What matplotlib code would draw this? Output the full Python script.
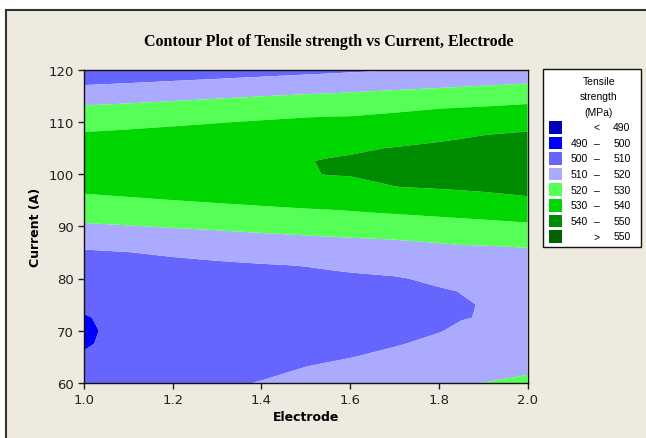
import numpy as np
import matplotlib
matplotlib.use("Agg")
import matplotlib.pyplot as plt
from matplotlib.patches import Rectangle

# ---- data ----
electrode = [1.0, 1.1, 1.2, 1.3, 1.4, 1.5, 1.55, 1.6, 1.7, 1.8, 1.85, 1.9, 2.0]
current = [60, 62.5, 65, 67.5, 70, 72.5, 75, 77.5, 80, 82.5, 85, 87.5, 90,
           92.5, 95, 97.5, 100, 102.5, 105, 107.5, 110, 112.5, 115, 117.5, 120]
# tensile strength (MPa): one row per current value, one column per electrode value
tensile = [
    [502.6, 504.6, 506.5, 508.5, 510.4, 512.4, 513.3, 514.3, 516.2, 518.2, 519.2, 520.1, 522.1],
    [501.2, 502.9, 504.6, 506.3, 508.3, 510.5, 511.3, 512.1, 513.9, 516.0, 517.1, 516.9, 518.7],
    [500.3, 501.7, 503.2, 504.7, 506.4, 508.4, 509.1, 509.8, 511.6, 513.7, 515.1, 514.3, 516.0],
    [499.7, 501.0, 502.3, 503.7, 505.1, 506.7, 507.4, 508.1, 509.5, 511.5, 513.0, 512.4, 513.9],
    [499.6, 500.8, 501.9, 503.2, 504.4, 505.7, 506.4, 507.0, 508.3, 509.7, 511.0, 511.0, 512.4],
    [499.8, 500.9, 502.0, 503.1, 504.3, 505.4, 506.0, 506.6, 507.8, 509.0, 509.7, 510.3, 511.6],
    [500.5, 501.5, 502.6, 503.6, 504.7, 505.7, 506.3, 506.8, 507.9, 509.0, 509.6, 510.2, 511.3],
    [501.7, 502.7, 503.7, 504.6, 505.6, 506.5, 507.0, 507.5, 508.4, 509.4, 510.1, 510.8, 511.8],
    [503.5, 504.5, 505.4, 506.3, 507.2, 508.0, 508.4, 508.8, 509.5, 511.1, 512.7, 512.3, 513.2],
    [505.9, 506.9, 507.8, 508.7, 509.5, 510.2, 510.8, 511.4, 512.4, 514.3, 515.4, 514.6, 515.4],
    [509.0, 509.9, 511.2, 512.4, 513.4, 514.4, 514.9, 515.4, 516.2, 517.5, 518.1, 517.7, 518.4],
    [513.6, 514.8, 515.9, 516.9, 517.8, 518.6, 519.0, 519.4, 520.1, 521.0, 521.5, 522.0, 523.0],
    [518.8, 519.7, 520.6, 521.4, 522.3, 523.3, 523.7, 524.2, 525.2, 526.3, 526.8, 527.4, 528.5],
    [523.5, 524.3, 525.3, 526.2, 527.2, 528.2, 528.7, 529.3, 530.3, 531.4, 532.0, 532.5, 533.8],
    [528.0, 529.0, 530.0, 531.1, 532.2, 533.3, 533.4, 533.5, 535.1, 536.3, 536.9, 537.6, 539.0],
    [532.1, 533.1, 534.1, 535.1, 536.1, 537.1, 537.3, 537.6, 539.9, 540.6, 541.0, 541.4, 542.3],
    [534.5, 535.5, 536.4, 537.4, 538.3, 539.3, 540.3, 540.5, 541.3, 542.2, 542.7, 543.1, 544.1],
    [535.1, 536.0, 536.9, 537.9, 538.8, 539.8, 540.3, 540.7, 541.6, 542.6, 543.1, 543.5, 544.5],
    [533.9, 534.8, 535.8, 536.7, 537.7, 538.7, 538.9, 539.2, 540.2, 541.4, 542.0, 542.5, 543.5],
    [531.0, 531.9, 532.9, 533.9, 535.0, 536.0, 535.7, 535.9, 536.6, 538.3, 539.1, 539.9, 541.1],
    [526.3, 527.3, 528.4, 529.5, 530.6, 531.8, 532.0, 531.9, 532.9, 534.1, 534.8, 535.4, 536.8],
    [521.5, 522.4, 523.3, 524.2, 525.2, 526.3, 526.9, 527.4, 528.7, 530.0, 530.5, 531.0, 532.1],
    [515.4, 516.5, 517.6, 518.7, 519.7, 520.7, 521.1, 521.6, 522.7, 523.8, 524.3, 524.9, 526.2],
    [508.7, 509.7, 510.8, 511.9, 513.0, 514.1, 514.6, 515.2, 516.3, 517.3, 517.9, 518.4, 519.5],
    [502.0, 503.1, 504.2, 505.2, 506.3, 507.4, 507.9, 508.5, 509.6, 510.6, 511.2, 511.7, 512.8],
]
levels = [470, 490, 500, 510, 520, 530, 540, 550, 580]
legend_entries = [('', '<', '490'), ('490', '–', '500'), ('500', '–', '510'), ('510', '–', '520'),
                  ('520', '–', '530'), ('530', '–', '540'), ('540', '–', '550'), ('', '>', '550')]
xticks = [1.0, 1.2, 1.4, 1.6, 1.8, 2.0]
xticklabels = ['1.0', '1.2', '1.4', '1.6', '1.8', '2.0']
yticks = [60, 70, 80, 90, 100, 110, 120]

# ---- styling ----
colors = ['#0000B4', '#0000FF', '#6666FF', '#AAAAFF', '#55FF55', '#00D700', '#008C00', '#006400']
W, H = 646, 439
fx = lambda p: p / W
fy = lambda p: 1 - p / H

fig = plt.figure(figsize=(6.46, 4.39), dpi=100)
fig.patch.set_facecolor('white')
bg = '#EEEAE0'
fig.patches.append(Rectangle((fx(5.7), -0.1), 1.2, fy(10.7) + 0.1, transform=fig.transFigure,
                             facecolor=bg, edgecolor='#333333', linewidth=1.5, zorder=-5))

ax = fig.add_axes([fx(84), fy(384), (527.5 - 84) / W, (384 - 70.5) / H])
ax.contourf(electrode, current, np.array(tensile), levels=levels, colors=colors, antialiased=True)
ax.set_xlim(1, 2)
ax.set_ylim(60, 120)
ax.set_xticks(xticks)
ax.set_xticklabels(xticklabels)
ax.set_yticks(yticks)
ax.tick_params(direction='out', length=4, width=1, colors='#222222', labelsize=9.5, top=False, right=False)
for s in ax.spines.values():
    s.set_color('#111111')
    s.set_linewidth(1)

fig.text(fx(329), fy(41.5), 'Contour Plot of Tensile strength vs Current, Electrode',
         family='Liberation Serif', weight='bold', fontsize=11.5, ha='center', va='center')
fig.text(fx(305.75), fy(418), 'Electrode', weight='bold', fontsize=9, ha='center', va='center')
fig.text(fx(35), fy(227), 'Current (A)', weight='bold', fontsize=9, ha='center', va='center', rotation=90)

# legend box
fig.patches.append(Rectangle((fx(543), fy(248)), (641 - 543) / W, (248 - 70) / H, transform=fig.transFigure,
                             facecolor='white', edgecolor='#111111', linewidth=1, zorder=1))
lf = dict(family='Liberation Sans', fontsize=7.5)
for txt, py in [('Tensile', 82), ('strength', 97.5), ('(MPa)', 112.7)]:
    fig.text(fx(599), fy(py), txt, ha='center', va='center', zorder=2, **lf)
for i, (lo, sym, hi) in enumerate(legend_entries):
    py = 128.3 + 15.6 * i
    fig.patches.append(Rectangle((fx(548.5), fy(py + 6.2)), 13.5 / W, 12.5 / H, transform=fig.transFigure,
                                 facecolor=colors[i], edgecolor='none', zorder=2))
    if lo:
        fig.text(fx(570.7), fy(py), lo, ha='left', va='center', zorder=3, **lf)
    fig.text(fx(596.5), fy(py), sym, ha='center', va='center', zorder=3, **lf)
    fig.text(fx(630.5), fy(py), hi, ha='right', va='center', zorder=3, **lf)

fig.savefig('out.png', dpi=100)
